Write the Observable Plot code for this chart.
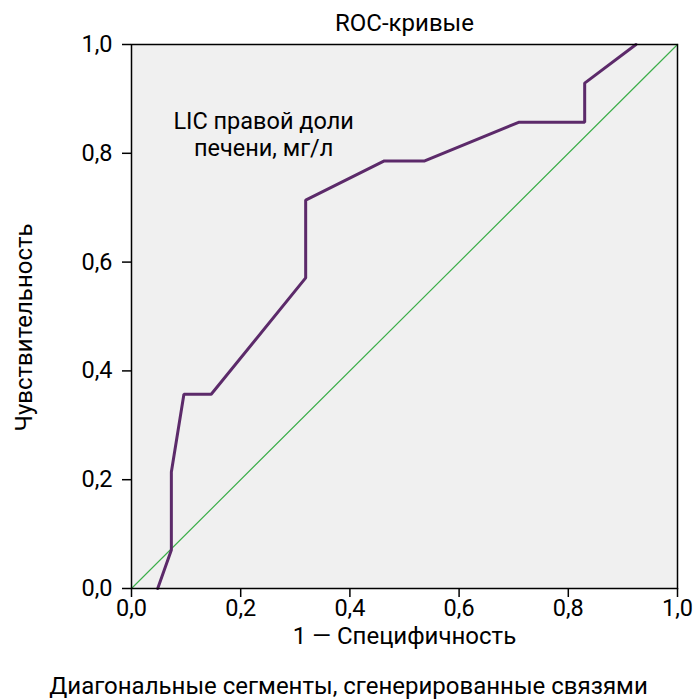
<!DOCTYPE html>
<html><head><meta charset="utf-8">
<script src="https://cdn.jsdelivr.net/npm/d3@7"></script>
<script src="https://cdn.jsdelivr.net/npm/@observablehq/plot@0.6"></script>
<style>body{margin:0;background:#fff}</style>
</head><body><div id="chart"></div>
<script>
const fpr = [0.048, 0.073, 0.073, 0.096, 0.146, 0.319, 0.319, 0.463, 0.537, 0.709, 0.830, 0.830, 0.924];
const tpr = [0.0, 0.071, 0.214, 0.357, 0.357, 0.571, 0.714, 0.786, 0.786, 0.857, 0.857, 0.929, 1.0];
const refX = [0, 1];
const refY = [0, 1];
const ticks = [0, 0.2, 0.4, 0.6, 0.8, 1.0];
const title = "ROC-кривые";
const xLabel = "1 — Специфичность";
const yLabel = "Чувствительность";
const footer = "Диагональные сегменты, сгенерированные связями";
const annotation = ["LIC правой доли", "печени, мг/л"];
const annX = [0.242, 0.242];
const annY = [0.859, 0.808];

const curve = fpr.map((x, i) => ({x, y: tpr[i]}));
const ref = refX.map((x, i) => ({x, y: refY[i]}));
const ann = annotation.map((t, i) => ({x: annX[i], y: annY[i], t}));
const fmt = d => d.toFixed(1).replace(".", ",");
const FONT = "Roboto";
const FS = 24;
const TS = 23.5;
const lbl = {textAnchor: "middle", lineAnchor: "middle", fontSize: FS, fill: "#000", text: d => d};

const chart = Plot.plot({
  width: 696, height: 699,
  marginLeft: 131, marginRight: 19, marginTop: 44, marginBottom: 111,
  style: {fontFamily: FONT, fontSize: FS + "px", color: "#000", background: "#fff"},
  x: {domain: [0, 1]},
  y: {domain: [0, 1]},
  marks: [
    Plot.frame({fill: "#f0f0f0", stroke: null}),
    Plot.line(ref, {x: "x", y: "y", stroke: "#3cae4a", strokeWidth: 1.2}),
    Plot.line(curve, {x: "x", y: "y", stroke: "#5c2a6a", strokeWidth: 3, strokeLinejoin: "miter"}),
    Plot.text(ann, {x: "x", y: "y", text: "t", fontSize: FS - 0.5, fill: "#000"}),
    Plot.frame({stroke: "#000", strokeWidth: 1.5}),
    Plot.axisX({ticks, tickFormat: fmt, tickSize: 9, tickPadding: 2, fontSize: TS, strokeWidth: 1.5, label: null}),
    Plot.axisY({ticks, tickFormat: fmt, tickSize: 9, tickPadding: 10, fontSize: TS, strokeWidth: 1.5, label: null}),
    Plot.text([xLabel], {...lbl, frameAnchor: "bottom", dy: 48}),
    Plot.text([yLabel], {...lbl, frameAnchor: "left", dx: -107, dy: 11, rotate: -90}),
    Plot.text([title], {...lbl, frameAnchor: "top", dy: -21}),
    Plot.text([footer], {...lbl, frameAnchor: "bottom", dy: 98, dx: -56})
  ]
});
document.getElementById("chart").append(chart);
</script>
</body></html>
